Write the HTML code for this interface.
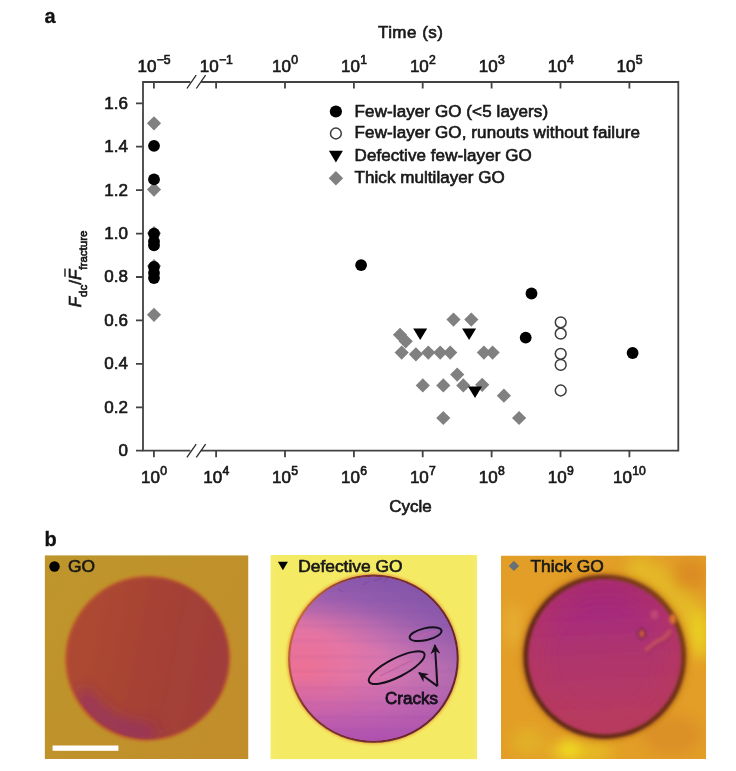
<!DOCTYPE html>
<html lang="en"><head><meta charset="utf-8"><title>Figure</title>
<style>html,body{margin:0;padding:0;background:#fff}svg{display:block;filter:blur(0.6px)}text{font-family:"Liberation Sans",Arial,Helvetica,sans-serif;fill:#181818;stroke:#181818;stroke-width:0.65px}.b{font-weight:bold;font-size:20px;fill:#111;stroke-width:0.3px}.t{font-size:17px}.s{font-size:12.2px}.s2{font-size:11.5px}.p{font-size:17.4px}</style></head><body>
<svg width="736" height="771" viewBox="0 0 736 771">
<defs>
<filter id="bl1" x="-10%" y="-10%" width="120%" height="120%"><feGaussianBlur stdDeviation="1.6"/></filter>
<filter id="bl2" x="-10%" y="-10%" width="120%" height="120%"><feGaussianBlur stdDeviation="0.7"/></filter>
<filter id="bl3" x="-10%" y="-10%" width="120%" height="120%"><feGaussianBlur stdDeviation="1.8"/></filter>
<filter id="bl8" x="-30%" y="-30%" width="160%" height="160%"><feGaussianBlur stdDeviation="7"/></filter>
<linearGradient id="g1" x1="0" y1="0.4" x2="1" y2="0.6"><stop offset="0" stop-color="#ae4a30"/><stop offset="0.5" stop-color="#a54234"/><stop offset="1" stop-color="#a03c3b"/></linearGradient>
<linearGradient id="bg1" x1="0" y1="0" x2="1" y2="0.6"><stop offset="0" stop-color="#be962c"/><stop offset="1" stop-color="#c18e2b"/></linearGradient>
<radialGradient id="g2" cx="0.08" cy="0.56" r="1.0"><stop offset="0" stop-color="#ec7094"/><stop offset="0.25" stop-color="#e474a4"/><stop offset="0.5" stop-color="#d676b0"/><stop offset="0.75" stop-color="#c070b0"/><stop offset="1" stop-color="#aa68ae"/></radialGradient>
<linearGradient id="g2b" x1="0" y1="0" x2="0" y2="1"><stop offset="0.6" stop-color="#b456ac" stop-opacity="0"/><stop offset="1" stop-color="#ac4eb0" stop-opacity="0.95"/></linearGradient>
<linearGradient id="g3" x1="0.5" y1="0" x2="0.55" y2="1"><stop offset="0" stop-color="#9a2080"/><stop offset="0.25" stop-color="#a82c7a"/><stop offset="0.5" stop-color="#ae346c"/><stop offset="1" stop-color="#b83c5e"/></linearGradient>
<clipPath id="c1"><rect x="44.6" y="555.2" width="203.8" height="203.8"/></clipPath>
<clipPath id="c2"><rect x="270.4" y="555" width="206.7" height="204.2"/></clipPath>
<clipPath id="c3"><rect x="501" y="555.6" width="205.1" height="203.4"/></clipPath>
<marker id="ah" viewBox="0 0 10 10" refX="9" refY="5" markerWidth="10" markerHeight="10" markerUnits="userSpaceOnUse" orient="auto"><path d="M0,0 L10,5 L0,10 L3,5 Z" fill="#15101c"/></marker>
<filter id="bl4" x="-10%" y="-10%" width="120%" height="120%"><feGaussianBlur stdDeviation="3"/></filter>
<radialGradient id="g1b" gradientUnits="userSpaceOnUse" cx="118" cy="734" r="50"><stop offset="0" stop-color="#9e3478" stop-opacity="0.55"/><stop offset="0.45" stop-color="#a23870" stop-opacity="0.25"/><stop offset="1" stop-color="#a23a60" stop-opacity="0"/></radialGradient>
<linearGradient id="bg2" x1="0" y1="0" x2="1" y2="0"><stop offset="0" stop-color="#f6ee78" stop-opacity="0.6"/><stop offset="0.06" stop-color="#f3e85e" stop-opacity="0"/><stop offset="0.94" stop-color="#f3e85e" stop-opacity="0"/><stop offset="1" stop-color="#f6ee78" stop-opacity="0.6"/></linearGradient>
<linearGradient id="g2c" x1="0.66" y1="0" x2="0.44" y2="0.72"><stop offset="0" stop-color="#7650a8" stop-opacity="1"/><stop offset="0.3" stop-color="#8a58ac" stop-opacity="0.75"/><stop offset="0.65" stop-color="#a062b0" stop-opacity="0"/></linearGradient>
<radialGradient id="g3b" cx="0.5" cy="0.5" r="0.5"><stop offset="0.6" stop-color="#b8385c" stop-opacity="0"/><stop offset="1" stop-color="#b8385c" stop-opacity="0.5"/></radialGradient>
<filter id="bl5" x="-80%" y="-80%" width="260%" height="260%"><feGaussianBlur stdDeviation="8"/></filter>
<clipPath id="cc1"><circle cx="147.6" cy="658.4" r="80.5"/></clipPath>
<clipPath id="cc2"><ellipse cx="373.4" cy="658.7" rx="83" ry="81.8"/></clipPath>
<linearGradient id="g2d" x1="0" y1="0" x2="0" y2="1"><stop offset="0" stop-color="#8a56ac" stop-opacity="0.7"/><stop offset="0.28" stop-color="#9a5eae" stop-opacity="0"/></linearGradient>
<linearGradient id="rim2" x1="0" y1="0.3" x2="1" y2="0.7"><stop offset="0" stop-color="#d07038"/><stop offset="0.25" stop-color="#7e3430"/><stop offset="1" stop-color="#622434"/></linearGradient>
<linearGradient id="rim3" x1="0" y1="1" x2="1" y2="0"><stop offset="0" stop-color="#5e2616"/><stop offset="0.6" stop-color="#6e3018"/><stop offset="1" stop-color="#8a4a18"/></linearGradient>
</defs>
<text class="b" x="44.5" y="23.2">a</text>
<text class="b" x="44.5" y="545.8">b</text>
<g fill="none" stroke="#424242" stroke-width="1.8">
<path d="M190.4,82 H143 V450.7 H190.4 M200.9,450.7 H678.3 V82 H201.2"/>
<path stroke-width="1.3" stroke="#2a2a2a" d="M186.9,88.5 L196.2,75.1 M196.3,88.5 L205.6,75.1"/>
<path stroke-width="1.3" stroke="#2a2a2a" d="M186.9,457.3 L196.2,444.1 M196.3,457.3 L205.6,444.1"/>
<path d="M153.9,82 v6.5M216.1,82 v6.5M285.0,82 v6.5M353.9,82 v6.5M422.7,82 v6.5M491.6,82 v6.5M560.5,82 v6.5M629.4,82 v6.5"/>
<path d="M153.9,450.7 v6.5M216.1,450.7 v6.5M285.0,450.7 v6.5M353.9,450.7 v6.5M422.7,450.7 v6.5M491.6,450.7 v6.5M560.5,450.7 v6.5M629.4,450.7 v6.5"/>
<path d="M143,450.7 h-7M143,407.3 h-7M143,363.9 h-7M143,320.4 h-7M143,277.0 h-7M143,233.6 h-7M143,190.1 h-7M143,146.7 h-7M143,103.3 h-7"/>
</g>
<text class="t" x="137.5" y="71.7">10<tspan class="s" dx="0.3" dy="-7.8">−5</tspan></text>
<text class="t" x="199.7" y="71.7">10<tspan class="s" dx="0.3" dy="-7.8">−1</tspan></text>
<text class="t" x="272.1" y="71.7">10<tspan class="s" dx="0.3" dy="-7.8">0</tspan></text>
<text class="t" x="341.0" y="71.7">10<tspan class="s" dx="0.3" dy="-7.8">1</tspan></text>
<text class="t" x="409.9" y="71.7">10<tspan class="s" dx="0.3" dy="-7.8">2</tspan></text>
<text class="t" x="478.8" y="71.7">10<tspan class="s" dx="0.3" dy="-7.8">3</tspan></text>
<text class="t" x="547.7" y="71.7">10<tspan class="s" dx="0.3" dy="-7.8">4</tspan></text>
<text class="t" x="616.5" y="71.7">10<tspan class="s" dx="0.3" dy="-7.8">5</tspan></text>
<text class="t" x="141.1" y="483.2">10<tspan class="s" dx="0.3" dy="-8.4">0</tspan></text>
<text class="t" x="203.3" y="483.2">10<tspan class="s" dx="0.3" dy="-8.4">4</tspan></text>
<text class="t" x="272.1" y="483.2">10<tspan class="s" dx="0.3" dy="-8.4">5</tspan></text>
<text class="t" x="341.0" y="483.2">10<tspan class="s" dx="0.3" dy="-8.4">6</tspan></text>
<text class="t" x="409.9" y="483.2">10<tspan class="s" dx="0.3" dy="-8.4">7</tspan></text>
<text class="t" x="478.8" y="483.2">10<tspan class="s" dx="0.3" dy="-8.4">8</tspan></text>
<text class="t" x="547.7" y="483.2">10<tspan class="s" dx="0.3" dy="-8.4">9</tspan></text>
<text class="t" x="613.1" y="483.2">10<tspan class="s" dx="0.3" dy="-8.4">10</tspan></text>
<text class="t" text-anchor="end" x="128" y="456.1">0</text>
<text class="t" text-anchor="end" x="128" y="412.7">0.2</text>
<text class="t" text-anchor="end" x="128" y="369.2">0.4</text>
<text class="t" text-anchor="end" x="128" y="325.8">0.6</text>
<text class="t" text-anchor="end" x="128" y="282.4">0.8</text>
<text class="t" text-anchor="end" x="128" y="239.0">1.0</text>
<text class="t" text-anchor="end" x="128" y="195.5">1.2</text>
<text class="t" text-anchor="end" x="128" y="152.1">1.4</text>
<text class="t" text-anchor="end" x="128" y="108.7">1.6</text>
<text class="t" x="377.9" y="38.3" textLength="65" lengthAdjust="spacing">Time (s)</text>
<text class="t" text-anchor="middle" x="410.5" y="511.5">Cycle</text>
<g transform="translate(81.2,307.3) rotate(-90)"><text class="t" x="0" y="0"><tspan font-style="italic">F</tspan><tspan class="s2" dy="6">dc</tspan><tspan dy="-6">/</tspan><tspan font-style="italic">F</tspan><tspan class="s2" dy="6">fracture</tspan></text><path d="M30.5,-16.2 h8.4" stroke="#181818" stroke-width="1.4" fill="none"/></g>
<path d="M154.0,116.2 l7.1,7.1 l-7.1,7.1 l-7.1,-7.1 z" fill="#808080"/>
<path d="M154.0,182.5 l7.1,7.1 l-7.1,7.1 l-7.1,-7.1 z" fill="#808080"/>
<path d="M154.0,226.1 l7.1,7.1 l-7.1,7.1 l-7.1,-7.1 z" fill="#808080"/>
<path d="M154.0,258.9 l7.1,7.1 l-7.1,7.1 l-7.1,-7.1 z" fill="#808080"/>
<path d="M154.0,307.7 l7.1,7.1 l-7.1,7.1 l-7.1,-7.1 z" fill="#808080"/>
<circle cx="154.0" cy="145.8" r="5.9" fill="#000"/>
<circle cx="154.0" cy="179.4" r="5.9" fill="#000"/>
<circle cx="154.0" cy="233.6" r="5.9" fill="#000"/>
<circle cx="154.0" cy="241.3" r="5.9" fill="#000"/>
<circle cx="154.0" cy="245.3" r="5.9" fill="#000"/>
<circle cx="154.0" cy="267.0" r="5.9" fill="#000"/>
<circle cx="154.0" cy="273.0" r="5.9" fill="#000"/>
<circle cx="154.0" cy="278.0" r="5.9" fill="#000"/>
<path d="M453.5,312.5 l7.1,7.1 l-7.1,7.1 l-7.1,-7.1 z" fill="#808080"/>
<path d="M471.3,312.5 l7.1,7.1 l-7.1,7.1 l-7.1,-7.1 z" fill="#808080"/>
<path d="M400.0,327.7 l7.1,7.1 l-7.1,7.1 l-7.1,-7.1 z" fill="#808080"/>
<path d="M405.7,334.2 l7.1,7.1 l-7.1,7.1 l-7.1,-7.1 z" fill="#808080"/>
<path d="M401.7,345.5 l7.1,7.1 l-7.1,7.1 l-7.1,-7.1 z" fill="#808080"/>
<path d="M415.9,347.2 l7.1,7.1 l-7.1,7.1 l-7.1,-7.1 z" fill="#808080"/>
<path d="M428.3,345.5 l7.1,7.1 l-7.1,7.1 l-7.1,-7.1 z" fill="#808080"/>
<path d="M440.2,345.5 l7.1,7.1 l-7.1,7.1 l-7.1,-7.1 z" fill="#808080"/>
<path d="M450.2,345.5 l7.1,7.1 l-7.1,7.1 l-7.1,-7.1 z" fill="#808080"/>
<path d="M483.9,345.5 l7.1,7.1 l-7.1,7.1 l-7.1,-7.1 z" fill="#808080"/>
<path d="M492.6,345.5 l7.1,7.1 l-7.1,7.1 l-7.1,-7.1 z" fill="#808080"/>
<path d="M457.2,367.5 l7.1,7.1 l-7.1,7.1 l-7.1,-7.1 z" fill="#808080"/>
<path d="M422.8,378.3 l7.1,7.1 l-7.1,7.1 l-7.1,-7.1 z" fill="#808080"/>
<path d="M443.3,378.3 l7.1,7.1 l-7.1,7.1 l-7.1,-7.1 z" fill="#808080"/>
<path d="M463.3,378.3 l7.1,7.1 l-7.1,7.1 l-7.1,-7.1 z" fill="#808080"/>
<path d="M482.2,377.7 l7.1,7.1 l-7.1,7.1 l-7.1,-7.1 z" fill="#808080"/>
<path d="M503.9,388.6 l7.1,7.1 l-7.1,7.1 l-7.1,-7.1 z" fill="#808080"/>
<path d="M443.3,410.9 l7.1,7.1 l-7.1,7.1 l-7.1,-7.1 z" fill="#808080"/>
<path d="M519.1,410.9 l7.1,7.1 l-7.1,7.1 l-7.1,-7.1 z" fill="#808080"/>
<path d="M413.2,328.5 h14.0 l-7.0,11.6 z" fill="#000"/>
<path d="M462.1,328.5 h14.0 l-7.0,11.6 z" fill="#000"/>
<path d="M468.0,386.5 h14.0 l-7.0,11.6 z" fill="#000"/>
<circle cx="361.1" cy="265.1" r="5.9" fill="#000"/>
<circle cx="531.5" cy="293.5" r="5.9" fill="#000"/>
<circle cx="525.7" cy="337.6" r="5.9" fill="#000"/>
<circle cx="632.6" cy="353.0" r="5.9" fill="#000"/>
<circle cx="560.7" cy="322.3" r="5.4" fill="#fff" stroke="#3c3c3c" stroke-width="1.5"/>
<circle cx="560.7" cy="333.7" r="5.4" fill="#fff" stroke="#3c3c3c" stroke-width="1.5"/>
<circle cx="560.7" cy="353.8" r="5.4" fill="#fff" stroke="#3c3c3c" stroke-width="1.5"/>
<circle cx="560.7" cy="364.9" r="5.4" fill="#fff" stroke="#3c3c3c" stroke-width="1.5"/>
<circle cx="560.7" cy="390.5" r="5.4" fill="#fff" stroke="#3c3c3c" stroke-width="1.5"/>
<circle cx="335.9" cy="111.5" r="6.1" fill="#000"/>
<circle cx="335.9" cy="133.5" r="5.4" fill="#fff" stroke="#3c3c3c" stroke-width="1.5"/>
<path d="M328.9,150.7 h14.0 l-7.0,11.8 z" fill="#000"/>
<path d="M335.9,171.0 l7.2,7.2 l-7.2,7.2 l-7.2,-7.2 z" fill="#808080"/>
<text class="t" x="354.6" y="116.5" textLength="193.5" lengthAdjust="spacing">Few-layer GO (&lt;5 layers)</text>
<text class="t" x="354.6" y="138.3" textLength="285.4" lengthAdjust="spacing">Few-layer GO, runouts without failure</text>
<text class="t" x="354.6" y="160.6" textLength="177.1" lengthAdjust="spacing">Defective few-layer GO</text>
<text class="t" x="354.6" y="182.6" textLength="150.2" lengthAdjust="spacing">Thick multilayer GO</text>
<g clip-path="url(#c1)"><rect x="44.6" y="555.2" width="204" height="204" fill="url(#bg1)"/>
<g filter="url(#bl3)" fill="#c26a2c"><circle cx="148.2" cy="657.8" r="82.4"/><circle cx="146.8" cy="659.2" r="82"/></g>
<g filter="url(#bl1)" fill="url(#g1)"><circle cx="148.2" cy="657.8" r="80.6"/><circle cx="146.8" cy="659.2" r="80.2"/></g>
<g clip-path="url(#cc1)"><path d="M150.1,732.5 A77,77 0 0 1 83.4,695.5" fill="none" stroke="#8e2c78" stroke-opacity="0.85" stroke-width="12" stroke-linecap="round" filter="url(#bl5)"/></g>
<rect x="52.6" y="745.5" width="65.8" height="5.3" fill="#fff"/></g>
<circle cx="54.5" cy="566.5" r="5.2" fill="#000"/><text class="p" x="68" y="572.4" fill="#111">GO</text>
<g clip-path="url(#c2)"><rect x="270.4" y="555" width="207" height="204.4" fill="#f4ea64"/>
<rect x="270.4" y="555" width="207" height="204.4" fill="url(#bg2)"/>
<ellipse cx="373.4" cy="658.7" rx="86.2" ry="85" fill="#e89a38" filter="url(#bl1)"/>
<ellipse cx="373.4" cy="658.7" rx="85.3" ry="84.1" fill="url(#rim2)" filter="url(#bl2)"/>
<ellipse cx="373.4" cy="658.7" rx="83.2" ry="82" fill="url(#g2)" filter="url(#bl2)"/>
<ellipse cx="373.4" cy="658.7" rx="83.2" ry="82" fill="url(#g2b)" filter="url(#bl2)"/>
<ellipse cx="373.4" cy="658.7" rx="83.2" ry="82" fill="url(#g2c)" filter="url(#bl2)"/>
<ellipse cx="373.4" cy="658.7" rx="83.2" ry="82" fill="url(#g2d)" filter="url(#bl2)"/>
<g clip-path="url(#cc2)" stroke="#6a3a98" stroke-opacity="0.05" stroke-width="3" filter="url(#bl2)"><path d="M285,600h180M285,612h180M285,626h180M285,641h180M285,657h180M285,671h180M285,688h180M285,703h180M285,717h180M285,730h180"/></g>
<g stroke="#c060a4" stroke-opacity="0.75" stroke-width="1.8" fill="none" filter="url(#bl2)"><path d="M380,676 L413,660"/><path d="M416,637 L436,631"/></g>
<g stroke="#7a4a98" stroke-opacity="0.6" stroke-width="1.4" fill="none" filter="url(#bl2)"><path d="M338,589 l5,3 M363,585 l6,-4 M374,581 l8,-3 M384,582 l4,-5"/></g>
<g fill="none" stroke="#15101c" stroke-width="2"><ellipse cx="425.6" cy="634.2" rx="16.3" ry="6" transform="rotate(-13 425.6 634.2)"/><ellipse cx="396.7" cy="667.7" rx="31" ry="9.3" transform="rotate(-27 396.7 667.7)"/>
<path d="M437.4,686.1 L434.9,645" marker-end="url(#ah)"/><path d="M437.4,686.1 L419,672.8" marker-end="url(#ah)"/></g></g>
<path d="M277.9,561.7 h10 l-5,8.6 z" fill="#000"/><text class="p" x="298.2" y="571.5" fill="#111">Defective GO</text><text class="t" x="385" y="703.6" style="fill:#15101c;stroke:#15101c;stroke-width:0.8px">Cracks</text>
<g clip-path="url(#c3)"><rect x="501" y="555.5" width="205.2" height="203.6" fill="#e29e27"/>
<g filter="url(#bl8)"><path d="M628,566 A98,98 0 0 1 699,640" fill="none" stroke="#e4b826" stroke-width="26"/><ellipse cx="700" cy="634" rx="9" ry="26" fill="#ead022"/><ellipse cx="580" cy="752" rx="34" ry="9" fill="#e6c022"/><ellipse cx="569" cy="749" rx="9" ry="9" fill="#f4e820"/><ellipse cx="528" cy="742" rx="16" ry="14" fill="#e2b026"/><ellipse cx="513" cy="625" rx="9" ry="22" fill="#e6ae30"/><ellipse cx="690" cy="575" rx="18" ry="16" fill="#dc8c24"/><ellipse cx="672" cy="735" rx="30" ry="20" fill="#dc9026"/></g>
<ellipse cx="604.7" cy="656.7" rx="83.4" ry="84" fill="#b05c14" fill-opacity="0.55" filter="url(#bl4)"/>
<ellipse cx="604.7" cy="656.7" rx="81.4" ry="82.2" fill="url(#rim3)" filter="url(#bl3)"/>
<ellipse cx="604.7" cy="656.7" rx="76.2" ry="77.2" fill="url(#g3)" filter="url(#bl3)"/>
<ellipse cx="604.7" cy="656.7" rx="76.2" ry="77.2" fill="url(#g3b)" filter="url(#bl3)"/>
<g filter="url(#bl1)" fill="none"><path d="M646,653 C652,650 655,644 662,642 S668,636 672,633" stroke="#8a2458" stroke-width="2.5" stroke-opacity="0.6"/><path d="M645,650.5 C651,647.5 654,641.5 661,639.5 S667,633.5 671,630.5" stroke="#c8505e" stroke-width="4.2" stroke-opacity="0.9"/><ellipse cx="641.8" cy="633.8" rx="3.4" ry="4.6" stroke="#6a1c4c" stroke-width="1.7" fill="#cc5a3c"/><ellipse cx="673" cy="619" rx="3.5" ry="5" fill="#e07830" fill-opacity="0.9"/><ellipse cx="654.5" cy="614.5" rx="4" ry="4.5" fill="#c85078" fill-opacity="0.7"/></g></g>
<path d="M513.9,560.7 l5.2,5.2 l-5.2,5.2 l-5.2,-5.2 z" fill="#667078"/>
<text class="p" x="530.4" y="571.5" fill="#111">Thick GO</text>
</svg></body></html>
